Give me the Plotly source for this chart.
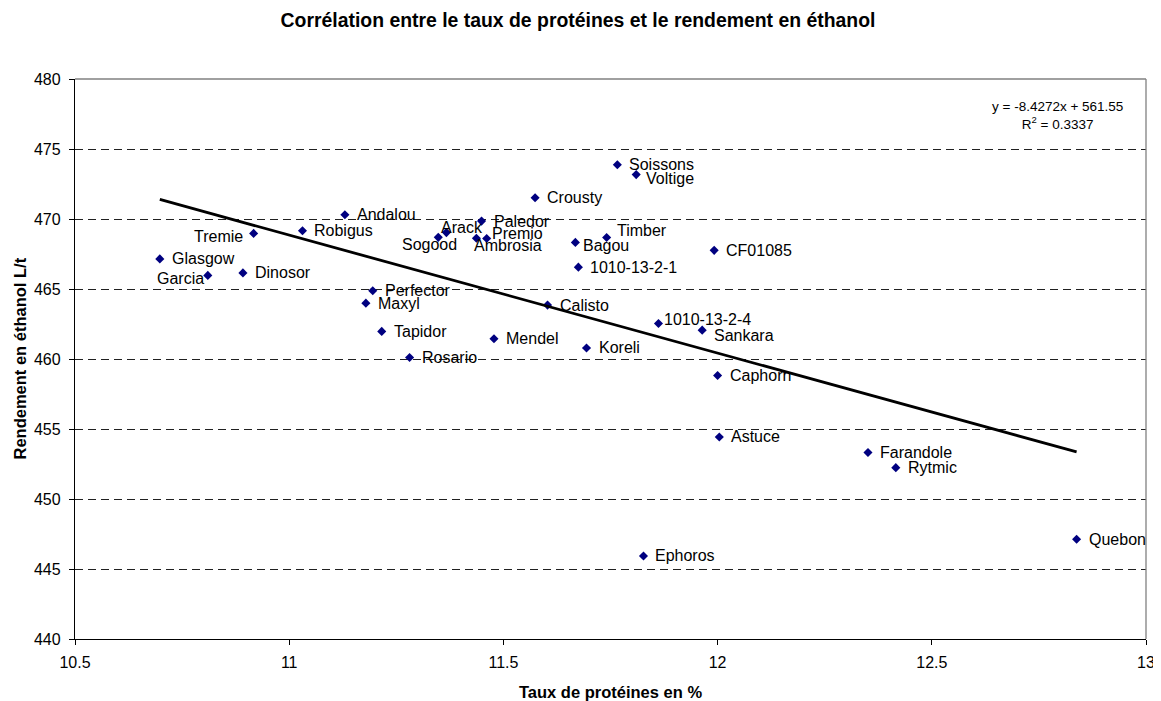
import plotly.graph_objects as go

# ---- data ----
varieties = ["Glasgow", "Garcia", "Dinosor", "Tremie", "Robigus", "Andalou", "Perfector", "Maxyl",
             "Tapidor", "Rosario", "Mendel", "Sogood", "Arack", "Paledor", "Ambrosia", "Premio",
             "Crousty", "Soissons", "Voltige", "Timber", "Bagou", "CF01085", "1010-13-2-1", "Calisto",
             "1010-13-2-4", "Sankara", "Koreli", "Caphorn", "Astuce", "Farandole", "Rytmic", "Ephoros",
             "Quebon"]
proteines = [10.698, 10.810, 10.892, 10.917, 11.031, 11.130, 11.195, 11.179,
             11.216, 11.281, 11.478, 11.348, 11.367, 11.449, 11.437, 11.461,
             11.574, 11.766, 11.810, 11.741, 11.668, 11.992, 11.675, 11.603,
             11.862, 11.964, 11.694, 12.000, 12.004, 12.351, 12.416, 11.827,
             12.838]
rendement = [467.15, 465.97, 466.15, 468.97, 469.16, 470.30, 464.87, 463.99,
             461.97, 460.11, 461.45, 468.69, 469.03, 469.85, 468.63, 468.61,
             471.52, 473.87, 473.17, 468.68, 468.33, 467.76, 466.56, 463.85,
             462.54, 462.06, 460.79, 458.82, 454.43, 453.32, 452.24, 445.93,
             447.12]

slope = -8.4272
intercept = 561.55
r2 = 0.3337

x_ticks = [10.5, 11, 11.5, 12, 12.5, 13]
x_tick_labels = ["10.5", "11", "11.5", "12", "12.5", "13"]
y_ticks = [440, 445, 450, 455, 460, 465, 470, 475, 480]

title = "Corrélation entre le taux de protéines et le rendement en éthanol"
x_title = "Taux de protéines en %"
y_title = "Rendement en éthanol L/t"

# ---- label placement (style) ----
default_label = ("left", 10, 0)
label_place = {
    "Tremie": ("right", -9, 2.7),
    "Garcia": ("right", -2, 3.4),
    "Sogood": ("right", 21, 7.5),
    "Arack": ("left", -7, -5.5),
    "Premio": ("left", 3, -5),
    "Ambrosia": ("left", -4.5, 7.7),
    "Voltige": ("left", 7.7, 4),
    "Timber": ("left", 8.3, -6.7),
    "Bagou": ("left", 6, 3.4),
    "1010-13-2-4": ("left", 4, -4),
    "Sankara": ("left", 9.7, 5),
}

FONT = "Liberation Sans, Arial, sans-serif"
PAGE_OFFSET = 8  # default body margin of the html page

fig = go.Figure()

fig.add_trace(go.Scatter(
    x=proteines, y=rendement, mode="markers",
    marker=dict(symbol="diamond", size=7, color="#000080"),
    hoverinfo="text", text=varieties, showlegend=False,
))

xmin, xmax = min(proteines), max(proteines)
fig.add_trace(go.Scatter(
    x=[xmin, xmax], y=[slope * xmin + intercept, slope * xmax + intercept],
    mode="lines", line=dict(color="black", width=2.8), showlegend=False, hoverinfo="skip",
))

annotations = []
for name, xv, yv in zip(varieties, proteines, rendement):
    anchor, dx, dy = label_place.get(name, default_label)
    annotations.append(dict(
        x=xv, y=yv, xref="x", yref="y", text=name, showarrow=False,
        xanchor=anchor, yanchor="middle", xshift=dx, yshift=-dy,
        font=dict(family=FONT, size=16, color="black"),
    ))

annotations.append(dict(
    x=0.917, y=0.9357, xref="paper", yref="paper",
    text=f"y = {slope}x + {intercept}<br>R<sup>2</sup> = {r2}",
    showarrow=False, xanchor="center", yanchor="middle", align="center",
    font=dict(family=FONT, size=13.5, color="black"),
))

annotations.append(dict(
    x=0.5, y=0, xref="paper", yref="paper", text=f"<b>{x_title}</b>",
    showarrow=False, xanchor="center", yanchor="middle", yshift=-53,
    font=dict(family=FONT, size=16.5, color="black"),
))
annotations.append(dict(
    x=0, y=0.5, xref="paper", yref="paper", text=f"<b>{y_title}</b>",
    showarrow=False, xanchor="center", yanchor="middle", xshift=-55.5, textangle=-90,
    font=dict(family=FONT, size=16.5, color="black"),
))

fig.update_layout(
    width=1161, height=701,
    margin=dict(l=75.3 - PAGE_OFFSET, r=15.3 + PAGE_OFFSET, t=79 - PAGE_OFFSET, b=62.3 + PAGE_OFFSET),
    paper_bgcolor="white", plot_bgcolor="white",
    title=dict(text=f"<b>{title}</b>", x=(578 - PAGE_OFFSET) / 1161, xref="container", xanchor="center",
               y=1 - (20 - PAGE_OFFSET) / 701, yref="container", yanchor="middle",
               font=dict(family=FONT, size=19.4, color="black")),
    annotations=annotations,
    shapes=[
        dict(type="line", xref="paper", yref="paper", x0=0, x1=1, y0=1, y1=1,
             line=dict(color="#808080", width=1.3)),
        dict(type="line", xref="paper", yref="paper", x0=1, x1=1, y0=0, y1=1,
             line=dict(color="#808080", width=1.3)),
    ],
    font=dict(family=FONT, size=16, color="black"),
)

fig.update_xaxes(
    range=[10.5, 13], tickmode="array", tickvals=x_ticks, ticktext=x_tick_labels,
    showgrid=False, zeroline=False, showline=True, linecolor="black", linewidth=1.3,
    ticks="outside", ticklen=5, tickcolor="black", tickwidth=1,
    tickfont=dict(family=FONT, size=16, color="black"), ticklabelstandoff=4,
)
fig.update_yaxes(
    range=[440, 480], tickmode="array", tickvals=y_ticks,
    showgrid=True, gridcolor="#202020", gridwidth=1, griddash="8px,5px",
    zeroline=False, showline=True, linecolor="black", linewidth=1.3,
    ticks="outside", ticklen=5, tickcolor="black", tickwidth=1,
    tickfont=dict(family=FONT, size=16, color="black"), ticklabelstandoff=5,
)

fig.write_html("out.html")
